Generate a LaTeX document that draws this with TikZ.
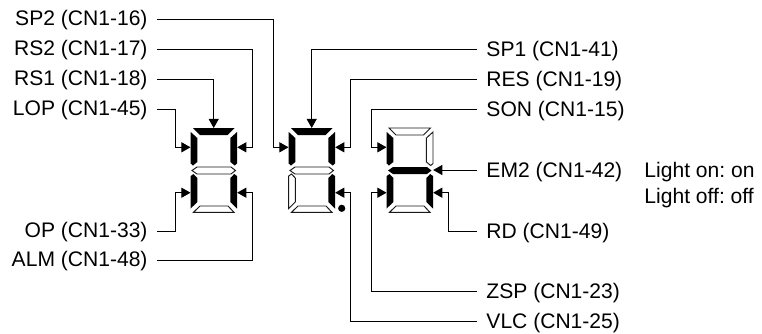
\documentclass[tikz,border=0pt]{standalone}
\usepackage{fontspec}
\setmainfont{Liberation Sans}
\frenchspacing
\usetikzlibrary{arrows.meta}
\usetikzlibrary{calc}
\tikzset{
  segon/.style={fill=black, draw=none},
  segoff/.style={fill=white, draw=black!90, line width=0.7pt},
  lbl/.style={font=\fontsize{15.8}{18}\selectfont, inner ysep=0pt, text depth=0pt},
  lleft/.style={lbl, anchor=east, inner xsep=6.75pt, text height=9pt},
  lright/.style={lbl, anchor=west, inner xsep=6.75pt, text height=11.2pt},
}
% digit: x offset, then styles of top, upper left, upper right, middle, lower left, lower right, bottom
\newcommand{\segdigit}[8]{
  \begin{scope}[xshift=#1*0.75pt]
  \path[#2] (193,128)--(234.5,128)--(227.5,135)--(200,135)--cycle;
  \path[#3] (190.7,132)--(197.3,138)--(197.3,162)--(193,165.5)--(190.7,163.5)--cycle;
  \path[#4] (237,132)--(230.4,138)--(230.4,162)--(234.7,165.5)--(237,163.5)--cycle;
  \path[#5] (192,170.5)--(197,167)--(231,167)--(235.5,170.5)--(231,174)--(197,174)--cycle;
  \path[#6] (190.7,176)--(193.5,174)--(197.3,178)--(197.3,202)--(190.7,208.5)--cycle;
  \path[#7] (237,176)--(234.2,174)--(230.4,178)--(230.4,202)--(237,208.5)--cycle;
  \path[#8] (193.5,212.3)--(234,212.3)--(228,206)--(200,206)--cycle;
  \end{scope}
}
\begin{document}
\begin{tikzpicture}[x=0.75pt, y=-0.75pt, >={Stealth[inset=0pt,length=6.8pt,width=7.5pt]}, line width=0.7pt]
\useasboundingbox (0,0) rectangle (762,333);
\segdigit{0}{segon}{segon}{segon}{segoff}{segon}{segon}{segoff}
\segdigit{98}{segon}{segon}{segon}{segoff}{segoff}{segon}{segoff}
\segdigit{196}{segoff}{segon}{segoff}{segon}{segon}{segon}{segoff}
\fill (341.7,208.3) circle (2.7pt);
\node[lleft] (sp2) at (157, 19.3) {SP2 (CN1-16)};
\node[lleft] (rs2) at (157, 49.7) {RS2 (CN1-17)};
\node[lleft] (rs1) at (157, 79.5) {RS1 (CN1-18)};
\node[lleft] (lop) at (157, 109.3) {LOP (CN1-45)};
\node[lleft] (op) at (157, 231) {OP (CN1-33)};
\node[lleft] (alm) at (157, 260.7) {ALM (CN1-48)};
\node[lright] (sp1) at (477, 49.3) {SP1 (CN1-41)};
\node[lright] (res) at (477, 79.3) {RES (CN1-19)};
\node[lright] (son) at (477, 109.3) {SON (CN1-15)};
\node[lright] (em2) at (477, 170) {EM2 (CN1-42)};
\node[lright] (rd) at (477, 231) {RD (CN1-49)};
\node[lright] (zsp) at (477, 291) {ZSP (CN1-23)};
\node[lright] (vlc) at (477, 321) {VLC (CN1-25)};
\node[lright] (lon) at (635, 170) {Light on: on};
\node[lright] (loff) at (635, 196) {Light off: off};
\coordinate (a1) at (213.7, 128);
\coordinate (a2) at (311.7, 128);
\coordinate (b1) at (190.5, 147.3);
\coordinate (b2) at (237.2, 147.3);
\coordinate (b3) at (288.5, 147.3);
\coordinate (b4) at (335.2, 147.3);
\coordinate (b5) at (386.5, 147.3);
\coordinate (c1) at (190.5, 192.7);
\coordinate (c2) at (237.2, 192.7);
\coordinate (c4) at (335.2, 192.7);
\coordinate (c5) at (386.5, 192.7);
\coordinate (c6) at (433.2, 192.7);
\coordinate (e6) at (433.2, 170);
 \draw [->] (sp2)-|($(b3)+(-15,0)$)--(b3);
 \draw [->] (rs2)-|($(b2)+(15,0)$)--(b2);
 \draw [->] (rs1)-|(a1);
 \draw [->] (lop)-|($(b1)+(-15,0)$)--(b1);
 \draw [->] (op)-|($(c1)+(-15,0)$)--(c1);
 \draw [->] (alm)-|($(c2)+(15,0)$)--(c2);
 \draw [->] (sp1)-|(a2);
 \draw [->] (res)-|($(b4)+(15,0)$)--(b4);
 \draw [->] (son)-|($(b5)+(-15,0)$)--(b5);
 \draw [->] (em2)--(e6);
 \draw [->] (rd)-|($(c6)+(15,0)$)--(c6);
 \draw [->] (zsp)-|($(c5)+(-15,0)$)--(c5);
 \draw [->] (vlc)-|($(c4)+(15,0)$)--(c4);
\end{tikzpicture}
\end{document}
